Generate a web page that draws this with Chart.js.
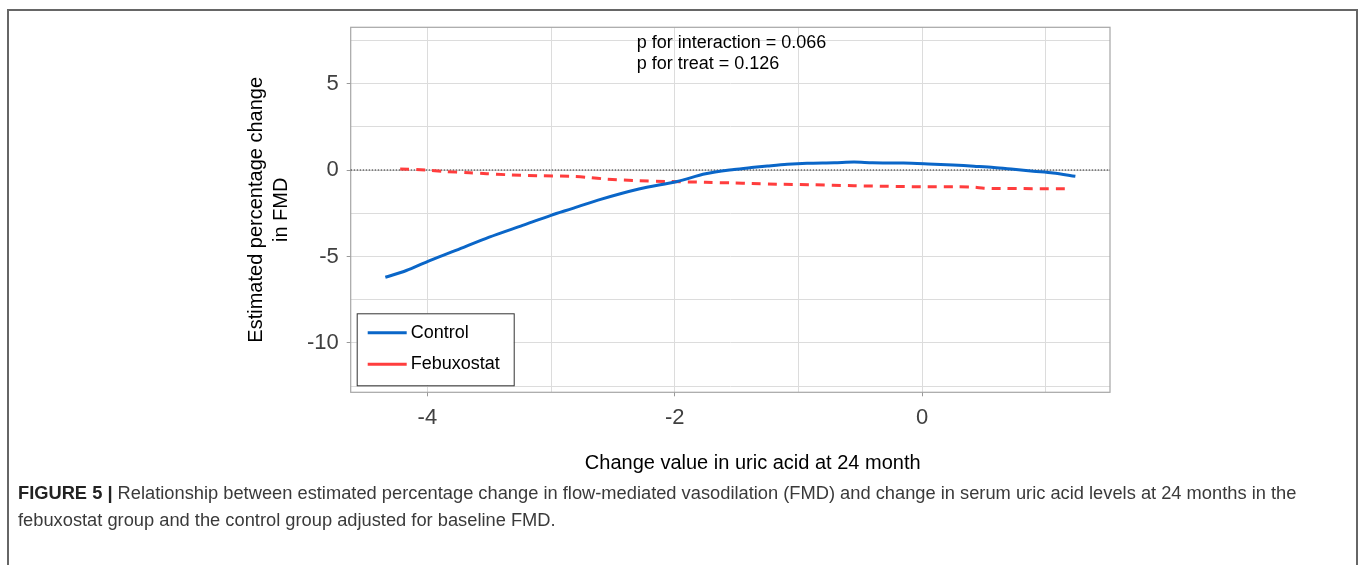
<!DOCTYPE html>
<html>
<head>
<meta charset="utf-8">
<script src="https://cdn.jsdelivr.net/npm/chart.js@4/dist/chart.umd.min.js"></script>
<style>
  html, body { margin: 0; padding: 0; background: #fff; }
  body { width: 1360px; height: 565px; position: relative; overflow: hidden; font-family: "Liberation Sans", Arial, sans-serif; }
  .frame { position: absolute; left: 7px; top: 9px; width: 1347px; height: 600px; border: 2px solid #666; border-bottom: none; }
  .wrap { position: absolute; left: 0; top: 0; width: 1360px; height: 480px; }
  .caption { position: absolute; left: 18px; top: 479px; font-size: 18.3px; line-height: 27px; color: #3a3a3a; white-space: nowrap; }
  .caption b { color: #222; }
</style>
</head>
<body>
<div class="frame"></div>
<div class="wrap"><canvas id="fig"></canvas></div>
<div class="caption"><b>FIGURE 5 |</b> Relationship between estimated percentage change in flow-mediated vasodilation (FMD) and change in serum uric acid levels at 24 months in the<br>febuxostat group and the control group adjusted for baseline FMD.</div>
<script>
// change in uric acid (x) and estimated % change in FMD (y)
const controlX = [-4.34, -4.17, -4.0, -3.77, -3.5, -3.23, -3.0, -2.83, -2.62, -2.29, -1.98, -1.75, -1.52, -1.38, -1.25, -1.09, -0.93, -0.71, -0.55, -0.4, -0.15, 0.05, 0.25, 0.42, 0.58, 0.74, 0.9, 1.06, 1.24];
const controlY = [-6.2, -5.81, -5.29, -4.65, -3.88, -3.2, -2.62, -2.23, -1.74, -1.1, -0.66, -0.22, 0.03, 0.14, 0.23, 0.33, 0.39, 0.42, 0.46, 0.42, 0.4, 0.35, 0.29, 0.22, 0.15, 0.04, -0.07, -0.17, -0.36];

const febuxX = [-4.22, -4.01, -3.87, -3.66, -3.52, -3.36, -3.09, -2.83, -2.69, -2.56, -2.29, -2.07, -1.75, -1.52, -1.38, -1.17, -0.9, -0.55, -0.28, -0.01, 0.28, 0.42, 0.5, 0.63, 1.17];
const febuxY = [0.06, 0.0, -0.08, -0.16, -0.21, -0.27, -0.33, -0.37, -0.43, -0.52, -0.62, -0.66, -0.71, -0.75, -0.78, -0.82, -0.85, -0.91, -0.94, -0.97, -0.97, -0.99, -1.05, -1.07, -1.08];

const seriesNames = ['Control', 'Febuxostat'];
const seriesColors = ['#0a66c8', '#ff3d3d'];
const notes = ['p for interaction = 0.066', 'p for treat = 0.126'];
const xTitle = 'Change value in uric acid at 24 month';

const xRange = [-4.62, 1.52];
const yRange = [-12.85, 8.25];

const toPoints = (xs, ys) => xs.map((x, i) => ({ x: x, y: ys[i] }));
const isMult = (v, m) => Math.abs(v % m) < 1e-9;
const FONT = '"Liberation Sans", Arial, sans-serif';

const extras = {
  id: 'extras',
  beforeDatasetsDraw(chart) {
    const { ctx, chartArea: a, scales } = chart;
    ctx.save();
    // plot frame
    ctx.strokeStyle = '#a6a6a6';
    ctx.lineWidth = 1.2;
    ctx.strokeRect(a.left, a.top, a.right - a.left, a.bottom - a.top);
    // dotted zero line
    const y0 = scales.y.getPixelForValue(0);
    ctx.strokeStyle = '#222';
    ctx.lineWidth = 1;
    ctx.setLineDash([1.5, 1.5]);
    ctx.beginPath();
    ctx.moveTo(a.left, y0);
    ctx.lineTo(a.right, y0);
    ctx.stroke();
    ctx.restore();
  },
  afterDraw(chart) {
    const { ctx, chartArea: a } = chart;
    ctx.save();
    // x axis title, sits a little right of the plot centre in the original
    ctx.fillStyle = '#000';
    ctx.font = '20px ' + FONT;
    ctx.textAlign = 'center';
    ctx.textBaseline = 'middle';
    ctx.fillText(xTitle, a.left + 402, a.bottom + 71);
    ctx.textAlign = 'left';
    // p-value notes
    ctx.font = '18px ' + FONT;
    ctx.textBaseline = 'alphabetic';
    notes.forEach((t, i) => ctx.fillText(t, a.left + 286, a.top + 21 + i * 21));
    // legend box
    const lx = a.left + 6, ly = a.bottom - 79;
    ctx.fillStyle = '#fff';
    ctx.fillRect(lx, ly, 157, 72);
    ctx.strokeStyle = '#333';
    ctx.lineWidth = 1;
    ctx.strokeRect(lx + 0.5, ly + 0.5, 157, 72);
    seriesNames.forEach((name, i) => {
      const yy = ly + 19.5 + i * 31.5;
      ctx.strokeStyle = seriesColors[i];
      ctx.lineWidth = 3;
      ctx.beginPath();
      ctx.moveTo(lx + 11, yy);
      ctx.lineTo(lx + 50, yy);
      ctx.stroke();
      ctx.fillStyle = '#000';
      ctx.font = '18px ' + FONT;
      ctx.textBaseline = 'middle';
      ctx.fillText(name, lx + 54, yy);
    });
    ctx.restore();
  }
};

new Chart(document.getElementById('fig'), {
  type: 'line',
  data: {
    datasets: [
      {
        label: seriesNames[0],
        data: toPoints(controlX, controlY),
        borderColor: seriesColors[0],
        borderWidth: 3,
        pointRadius: 0,
        tension: 0.3,
        fill: false
      },
      {
        label: seriesNames[1],
        data: toPoints(febuxX, febuxY),
        borderColor: seriesColors[1],
        borderWidth: 3,
        borderDash: [9, 7],
        pointRadius: 0,
        tension: 0.3,
        fill: false
      }
    ]
  },
  options: {
    responsive: true,
    maintainAspectRatio: false,
    animation: false,
    layout: { padding: { left: 244, right: 250, top: 27.3, bottom: 0 } },
    plugins: {
      legend: { display: false },
      tooltip: { enabled: false }
    },
    scales: {
      x: {
        type: 'linear',
        min: xRange[0],
        max: xRange[1],
        afterFit: s => { s.height = 87.7; },
        border: { display: false },
        grid: {
          color: '#dcdcdc',
          lineWidth: 1,
          tickLength: 4,
          tickColor: c => (c.tick && isMult(c.tick.value, 2)) ? '#999' : 'rgba(0,0,0,0)'
        },
        ticks: {
          stepSize: 1,
          includeBounds: false,
          autoSkip: false,
          maxRotation: 0,
          padding: 8,
          color: '#404040',
          font: { family: FONT, size: 22 },
          callback: v => isMult(v, 2) ? String(v) : ''
        },
        title: { display: false }
      },
      y: {
        min: yRange[0],
        max: yRange[1],
        afterFit: s => { s.width = 106.7; },
        border: { display: false },
        grid: {
          color: c => (c.tick && isMult(c.tick.value, 2.5)) ? '#dcdcdc' : 'rgba(0,0,0,0)',
          lineWidth: 1,
          tickLength: 4,
          tickColor: c => (c.tick && isMult(c.tick.value, 5)) ? '#999' : 'rgba(0,0,0,0)'
        },
        ticks: {
          stepSize: 2.5,
          includeBounds: false,
          padding: 8,
          color: '#404040',
          font: { family: FONT, size: 22 },
          callback: v => isMult(v, 5) ? String(v) : ''
        },
        title: {
          display: true,
          text: ['Estimated percentage change', 'in FMD'],
          color: '#000',
          font: { family: FONT, size: 20, lineHeight: 1.25 },
          padding: { top: 0, bottom: 0 }
        }
      }
    }
  },
  plugins: [extras]
});
</script>
</body>
</html>
